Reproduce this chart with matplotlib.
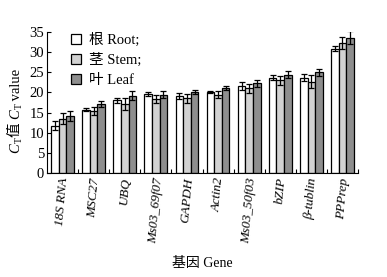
import matplotlib
matplotlib.use("Agg")
import matplotlib.pyplot as plt
from matplotlib.transforms import IdentityTransform
import numpy as np

plt.rcParams['font.family'] = ['Liberation Serif', 'Noto Sans CJK SC']

genes = ['18S RNA', 'MSC27', 'UBQ', 'Ms03_69f07', 'GAPDH', 'Actin2',
         'Ms03_50f03', 'bZIP', 'β-tublin', 'PPPrep']
root = [11.7, 15.7, 18.0, 19.6, 19.1, 20.1, 21.6, 23.7, 23.7, 30.9]
stem = [13.5, 15.5, 17.1, 18.3, 18.5, 19.4, 21.0, 23.0, 22.7, 32.3]
leaf = [14.1, 17.2, 19.2, 19.4, 20.2, 21.1, 22.3, 24.4, 25.0, 33.6]
root_err = [1.1, 0.4, 0.5, 0.5, 0.8, 0.3, 1.0, 0.6, 0.8, 0.7]
stem_err = [1.3, 1.0, 1.5, 1.0, 1.2, 0.9, 1.2, 1.1, 1.6, 1.5]
leaf_err = [1.2, 0.7, 1.1, 0.9, 0.5, 0.4, 0.9, 0.9, 0.9, 1.7]
labels = ['根 Root;', '茎 Stem;', '叶 Leaf']
colors = ['white', '#d2d2d2', '#8e8e8e']

fig = plt.figure(figsize=(3.87, 2.77), dpi=100)
ax = fig.add_axes([47/387, 1-173/277, (358-47)/387, (173-32)/277])

x = np.arange(len(genes))
w = 0.245
for k, (vals, errs, c, lab) in enumerate(zip([root, stem, leaf],
                                             [root_err, stem_err, leaf_err],
                                             colors, labels)):
    ax.bar(x + (k-1)*w, vals, w, color=c, edgecolor='black', linewidth=0.9,
           yerr=errs, capsize=2, error_kw=dict(ecolor='black', elinewidth=0.9, capthick=0.9),
           label=lab)

ax.set_xlim(-0.5, 9.5)
ax.set_ylim(0, 35)
ax.set_yticks(range(0, 36, 5))
ax.tick_params(axis='y', direction='in', length=3, labelsize=10.5, pad=2)
ax.set_xticks(x + 0.5, minor=False)
ax.set_xticklabels([])
ax.set_xticks(x, minor=True)
ax.set_xticklabels(genes, minor=True, rotation=85, style='italic', fontsize=9.5,
                   ha='center', va='top')
ax.tick_params(axis='x', which='major', direction='in', length=3)
ax.tick_params(axis='x', which='minor', length=0, pad=3)
ax.spines['top'].set_visible(False)
ax.spines['right'].set_visible(False)

ax.set_xlabel('基因 Gene', fontsize=10, labelpad=9)

leg = ax.legend(loc='upper left', bbox_to_anchor=(0.035, 1.085), frameon=False,
                fontsize=10.5, handlelength=0.7, handleheight=0.7,
                handletextpad=0.55, labelspacing=0.42)

# y label built from pieces: C_T值 C_T value
pieces = [('C', 'italic', 10.5, 0), ('T', 'normal', 7, 2.5), ('值 ', 'normal', 10.5, 0),
          ('C', 'italic', 10.5, 0), ('T', 'normal', 7, 2.5), (' value', 'normal', 10.5, 0)]
fig.canvas.draw()
renderer = fig.canvas.get_renderer()
texts = []
lengths = []
for s, st, fs, sh in pieces:
    t = fig.text(0, 0, s, rotation=90, rotation_mode='anchor', ha='left', va='baseline',
                 style=st, fontsize=fs, transform=IdentityTransform())
    bb = t.get_window_extent(renderer)
    texts.append((t, sh))
    lengths.append(bb.height)
H = 277
y_bottom_px = H - 153  # display coords (origin bottom)
xb = 19.5
yc = y_bottom_px
for (t, sh), L in zip(texts, lengths):
    t.set_position((xb + sh, yc))
    yc += L

fig.savefig('out.png', dpi=100)
